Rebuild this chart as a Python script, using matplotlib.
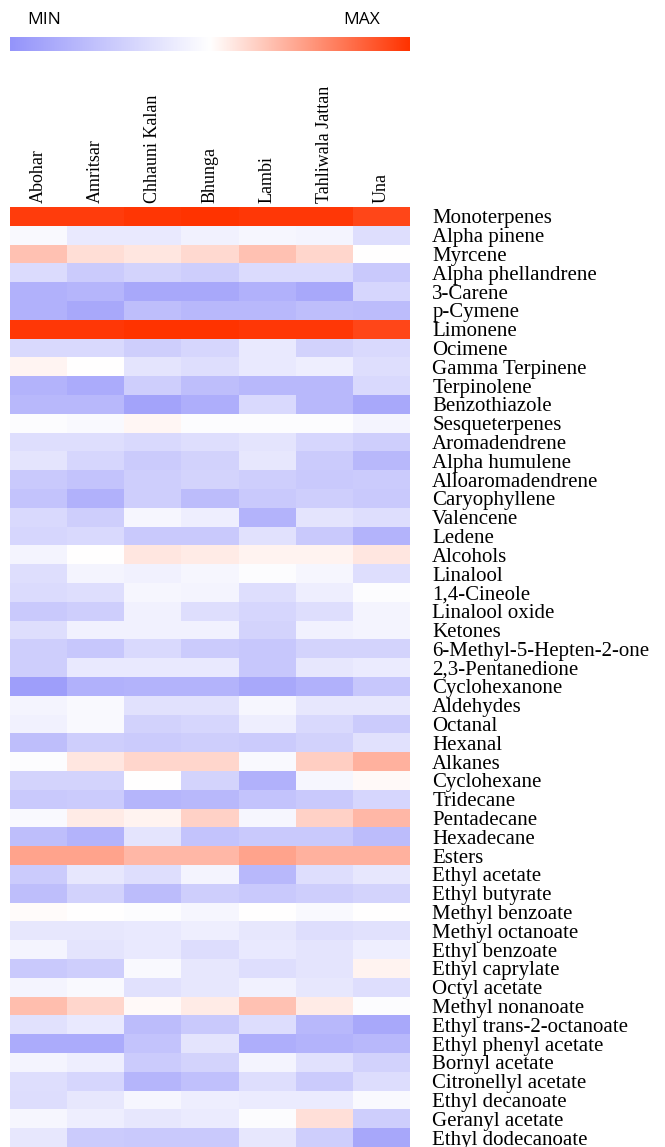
import numpy as np
import matplotlib
matplotlib.use("Agg")
import matplotlib.pyplot as plt
from matplotlib.colors import LinearSegmentedColormap

# sampling sites (columns)
sites = ["Abohar", "Amritsar", "Chhauni Kalan", "Bhunga", "Lambi",
         "Tahliwala Jattan", "Una"]

# volatile compounds (rows)
compounds = [
    "Monoterpenes", "Alpha pinene", "Myrcene", "Alpha phellandrene", "3-Carene",
    "p-Cymene", "Limonene", "Ocimene", "Gamma Terpinene", "Terpinolene",
    "Benzothiazole", "Sesqueterpenes", "Aromadendrene", "Alpha humulene",
    "Alloaromadendrene", "Caryophyllene", "Valencene", "Ledene", "Alcohols",
    "Linalool", "1,4-Cineole", "Linalool oxide", "Ketones",
    "6-Methyl-5-Hepten-2-one", "2,3-Pentanedione", "Cyclohexanone", "Aldehydes",
    "Octanal", "Hexanal", "Alkanes", "Cyclohexane", "Tridecane", "Pentadecane",
    "Hexadecane", "Esters", "Ethyl acetate", "Ethyl butyrate", "Methyl benzoate",
    "Methyl octanoate", "Ethyl benzoate", "Ethyl caprylate", "Octyl acetate",
    "Methyl nonanoate", "Ethyl trans-2-octanoate", "Ethyl phenyl acetate",
    "Bornyl acetate", "Citronellyl acetate", "Ethyl decanoate", "Geranyl acetate",
    "Ethyl dodecanoate",
]

# relative level, -1 = MIN, +1 = MAX
levels = [
    [0.95, 0.95, 0.98, 1.00, 0.97, 0.97, 0.90],
    [-0.05, -0.20, -0.20, -0.12, -0.08, -0.10, -0.30],
    [0.30, 0.16, 0.12, 0.18, 0.30, 0.20, 0.00],
    [-0.33, -0.48, -0.40, -0.45, -0.33, -0.33, -0.50],
    [-0.72, -0.68, -0.80, -0.80, -0.72, -0.80, -0.38],
    [-0.72, -0.80, -0.60, -0.65, -0.65, -0.60, -0.62],
    [0.97, 0.97, 1.00, 1.00, 0.97, 0.97, 0.90],
    [-0.35, -0.35, -0.45, -0.38, -0.20, -0.42, -0.35],
    [0.05, 0.00, -0.25, -0.30, -0.20, -0.15, -0.30],
    [-0.70, -0.78, -0.45, -0.60, -0.65, -0.65, -0.35],
    [-0.65, -0.65, -0.85, -0.75, -0.35, -0.65, -0.80],
    [-0.03, -0.05, 0.04, -0.02, -0.02, -0.02, -0.10],
    [-0.30, -0.30, -0.35, -0.30, -0.25, -0.38, -0.45],
    [-0.25, -0.38, -0.48, -0.42, -0.22, -0.48, -0.65],
    [-0.50, -0.55, -0.45, -0.40, -0.45, -0.50, -0.48],
    [-0.55, -0.72, -0.45, -0.62, -0.50, -0.45, -0.50],
    [-0.35, -0.45, -0.08, -0.15, -0.70, -0.25, -0.30],
    [-0.38, -0.35, -0.50, -0.50, -0.28, -0.50, -0.70],
    [-0.10, 0.00, 0.12, 0.10, 0.06, 0.06, 0.12],
    [-0.30, -0.10, -0.12, -0.08, -0.03, -0.08, -0.30],
    [-0.33, -0.30, -0.08, -0.10, -0.30, -0.15, -0.03],
    [-0.50, -0.45, -0.12, -0.30, -0.38, -0.30, -0.10],
    [-0.30, -0.12, -0.12, -0.12, -0.40, -0.12, -0.10],
    [-0.45, -0.52, -0.35, -0.48, -0.52, -0.40, -0.40],
    [-0.45, -0.20, -0.20, -0.20, -0.52, -0.22, -0.18],
    [-0.90, -0.72, -0.70, -0.70, -0.80, -0.72, -0.52],
    [-0.10, -0.05, -0.28, -0.28, -0.08, -0.22, -0.22],
    [-0.12, -0.05, -0.42, -0.38, -0.15, -0.35, -0.48],
    [-0.60, -0.45, -0.48, -0.45, -0.48, -0.42, -0.28],
    [-0.02, 0.12, 0.20, 0.20, -0.05, 0.24, 0.38],
    [-0.40, -0.40, 0.00, -0.40, -0.72, -0.08, 0.03],
    [-0.50, -0.48, -0.68, -0.65, -0.55, -0.50, -0.38],
    [-0.05, 0.10, 0.06, 0.22, -0.08, 0.22, 0.35],
    [-0.60, -0.70, -0.25, -0.55, -0.50, -0.50, -0.62],
    [0.45, 0.45, 0.35, 0.35, 0.45, 0.38, 0.38],
    [-0.48, -0.22, -0.30, -0.10, -0.65, -0.30, -0.22],
    [-0.60, -0.42, -0.62, -0.45, -0.50, -0.45, -0.40],
    [0.02, 0.00, -0.03, -0.08, 0.00, -0.05, 0.00],
    [-0.22, -0.22, -0.20, -0.15, -0.22, -0.30, -0.28],
    [-0.10, -0.25, -0.20, -0.32, -0.20, -0.25, -0.15],
    [-0.50, -0.45, -0.05, -0.22, -0.30, -0.25, 0.06],
    [-0.10, -0.05, -0.28, -0.22, -0.12, -0.22, -0.30],
    [0.32, 0.20, 0.03, 0.10, 0.30, 0.10, -0.03],
    [-0.28, -0.20, -0.62, -0.50, -0.32, -0.65, -0.80],
    [-0.78, -0.78, -0.55, -0.25, -0.75, -0.70, -0.65],
    [-0.10, -0.15, -0.48, -0.40, -0.10, -0.28, -0.42],
    [-0.30, -0.38, -0.68, -0.58, -0.30, -0.48, -0.32],
    [-0.32, -0.22, -0.08, -0.15, -0.18, -0.18, -0.05],
    [-0.08, -0.15, -0.22, -0.18, -0.03, 0.15, -0.45],
    [-0.22, -0.48, -0.50, -0.50, -0.22, -0.45, -0.82],
]

data = np.array(levels)
cmap = LinearSegmentedColormap.from_list(
    "minmax", [(0.0, "#9494fa"), (0.5, "#ffffff"), (1.0, "#ff3300")])

W, H = 665, 1147
fig = plt.figure(figsize=(W / 100, H / 100), dpi=100)

# heatmap (last row runs to the bottom edge, as in the original)
ax = fig.add_axes([10 / W, 0, 400 / W, 940 / H])
ax.imshow(data, cmap=cmap, vmin=-1, vmax=1, aspect="auto",
          interpolation="nearest")
ax.set_xticks(range(len(sites)))
ax.set_xticklabels(sites, rotation=90, family="Liberation Serif", fontsize=13,
                   va="bottom", ha="center")
ax.xaxis.tick_top()
ax.set_yticks(range(len(compounds)))
ax.set_yticklabels(compounds, family="Liberation Serif", fontsize=15)
ax.yaxis.tick_right()
ax.tick_params(axis="both", length=0)
ax.tick_params(axis="y", pad=16)
ax.tick_params(axis="x", pad=3)
for s in ax.spines.values():
    s.set_visible(False)

# colour key
cax = fig.add_axes([10 / W, 1 - 51 / H, 400 / W, 14 / H])
cax.imshow(np.linspace(-1, 1, 256)[None, :], cmap=cmap, vmin=-1, vmax=1,
           aspect="auto")
cax.axis("off")
fig.text(27 / W, 1 - 20 / H, "MIN", family="Open Sans", fontsize=12.5,
         ha="left", va="center")
fig.text(380 / W, 1 - 20 / H, "MAX", family="Open Sans", fontsize=12.5,
         ha="right", va="center")

fig.savefig("out.png", dpi=100)
